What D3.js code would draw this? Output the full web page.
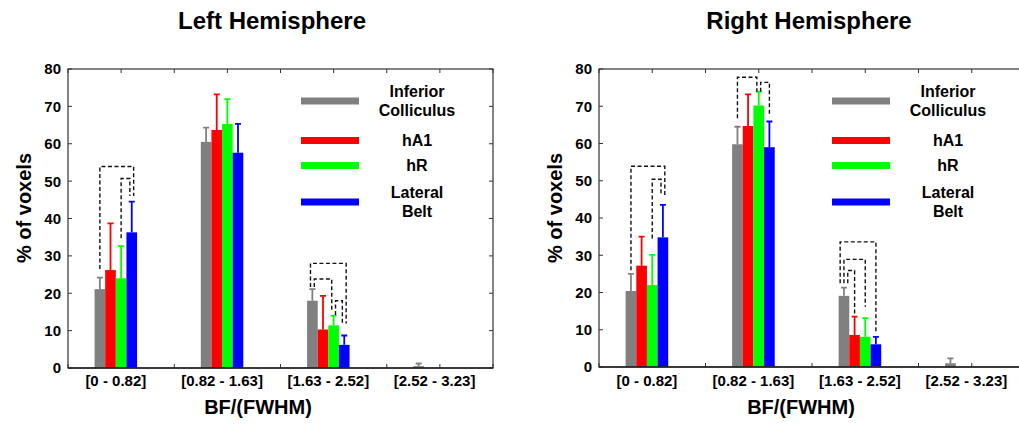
<!DOCTYPE html>
<meta charset="utf-8">
<script src="https://d3js.org/d3.v7.min.js"></script>
<style>
    body { margin: 0; background: #fff; }
    svg { display: block; }
    text { font-family: "Liberation Sans", Arial, Helvetica, sans-serif; font-weight: bold; fill: #000; }
</style>
<svg width="1019" height="424"></svg>
<script>
    // bins of BF/(FWHM)
    var categories = ["[0 - 0.82]", "[0.82 - 1.63]", "[1.63 - 2.52]", "[2.52 - 3.23]"];
    var regions = [["Inferior", "Colliculus"], ["hA1"], ["hR"], ["Lateral", "Belt"]];
    var colors = ["#808080", "#ff0000", "#00ff00", "#0000ff"];
    var yTicks = [0, 10, 20, 30, 40, 50, 60, 70, 80];

    // left hemisphere, % of voxels (mean) and error
    var leftIC = [21.1, 60.5, 18.0, 0.5];
    var leftA1 = [26.2, 63.7, 10.3, 0];
    var leftR  = [24.0, 65.3, 11.4, 0];
    var leftLB = [36.3, 57.6, 6.2, 0];
    var leftICErr = [3.1, 3.8, 3.1, 0.7];
    var leftA1Err = [12.5, 9.5, 9.0, 0];
    var leftRErr  = [8.6, 6.6, 2.6, 0];
    var leftLBErr = [8.2, 7.7, 2.5, 0];

    // right hemisphere
    var rightIC = [20.4, 59.8, 19.1, 1.0];
    var rightA1 = [27.2, 64.7, 8.6, 0];
    var rightR  = [22.0, 70.2, 8.1, 0];
    var rightLB = [34.8, 59.0, 6.1, 0];
    var rightICErr = [4.6, 4.7, 2.2, 1.3];
    var rightA1Err = [7.8, 8.5, 4.9, 0];
    var rightRErr  = [8.1, 3.7, 5.0, 0];
    var rightLBErr = [8.7, 6.9, 2.0, 0];

    // significance brackets: [bin, from region, to region, top, bottom at from, bottom at to]
    var leftSig = [
        [0, 0, 3, 53.9, 26.5, 46.0],
        [0, 2, 3, 50.7, 34.7, 46.0],
        [2, 0, 3, 28.0, 21.7, 11.9],
        [2, 0, 2, 23.8, 21.7, 15.1],
        [2, 2, 3, 18.0, 14.2, 11.9]
    ];
    var rightSig = [
        [0, 0, 3, 53.9, 26.0, 46.2],
        [0, 2, 3, 50.4, 34.5, 46.2],
        [1, 0, 2, 77.8, 66.8, 73.9],
        [1, 2, 3, 76.4, 73.9, 67.6],
        [2, 0, 3, 33.6, 22.5, 9.0],
        [2, 0, 2, 28.9, 22.5, 16.2],
        [2, 0, 1, 25.9, 22.5, 14.0]
    ];

    var svg = d3.select("svg");

    function drawPanel(p) {
        var x = d3.scaleLinear().domain([0.55, 4.55]).range([p.left, p.right]);
        var y = d3.scaleLinear().domain([0, 80]).range([p.bottom, p.top]);
        var g = svg.append("g");
        var bw = x(0.1) - x(0);

        // title
        g.append("text")
            .attr("x", p.titleX).attr("y", 29)
            .attr("text-anchor", "middle")
            .attr("font-size", "24px")
            .text(p.title);

        // minor ticks along top and bottom
        var xt = d3.range(0.55, 4.56, 0.5);
        g.selectAll(".xtt").data(xt).enter().append("line")
            .attr("x1", function(d) { return x(d); }).attr("x2", function(d) { return x(d); })
            .attr("y1", p.top).attr("y2", p.top + 4)
            .attr("stroke", "#333").attr("stroke-width", 1);
        g.selectAll(".xtb").data(xt).enter().append("line")
            .attr("x1", function(d) { return x(d); }).attr("x2", function(d) { return x(d); })
            .attr("y1", p.bottom).attr("y2", p.bottom - 4)
            .attr("stroke", "#333").attr("stroke-width", 1);

        // y ticks both sides
        g.selectAll(".ytl").data(yTicks).enter().append("line")
            .attr("x1", p.left).attr("x2", p.left + 4)
            .attr("y1", function(d) { return y(d); }).attr("y2", function(d) { return y(d); })
            .attr("stroke", "#333").attr("stroke-width", 1);
        g.selectAll(".ytr").data(yTicks).enter().append("line")
            .attr("x1", p.right).attr("x2", p.right - 4)
            .attr("y1", function(d) { return y(d); }).attr("y2", function(d) { return y(d); })
            .attr("stroke", "#333").attr("stroke-width", 1);

        g.selectAll(".ylab").data(yTicks).enter().append("text")
            .attr("x", p.left - 7).attr("y", function(d) { return y(d); })
            .attr("dy", "0.36em")
            .attr("text-anchor", "end")
            .attr("font-size", "15px")
            .text(function(d) { return d; });

        // bars + error bars
        var series = [];
        p.means.forEach(function(m, j) {
            m.forEach(function(v, i) {
                series.push({ bin: i, reg: j, v: v, e: p.errs[j][i] });
            });
        });
        series = series.filter(function(d) { return d.v > 0 || d.e > 0; });
        function cx(d) { return x(d.bin + 1 + (d.reg - 1.5) * 0.1); }

        g.selectAll(".err").data(series).enter().append("path")
            .attr("d", function(d) {
                var c = cx(d), t = y(d.v + d.e);
                return "M" + c + "," + y(d.v) + "V" + t + "M" + (c - 3) + "," + t + "H" + (c + 3);
            })
            .attr("fill", "none")
            .attr("stroke", function(d) { return colors[d.reg]; })
            .attr("stroke-width", 1.8);

        g.selectAll(".bar").data(series).enter().append("rect")
            .attr("x", function(d) { return cx(d) - bw / 2; })
            .attr("width", bw)
            .attr("y", function(d) { return y(d.v); })
            .attr("height", function(d) { return y(0) - y(d.v); })
            .attr("fill", function(d) { return colors[d.reg]; });

        // frame
        g.append("rect")
            .attr("x", p.left).attr("y", p.top)
            .attr("width", p.right - p.left).attr("height", p.bottom - p.top)
            .attr("fill", "none").attr("stroke", "#333").attr("stroke-width", 1.2);
        g.append("line")
            .attr("x1", p.left).attr("x2", p.right)
            .attr("y1", p.bottom).attr("y2", p.bottom)
            .attr("stroke", "#222").attr("stroke-width", 1.6);

        // significance brackets, legs sharing a bar get spread out
        var ends = {};
        p.sig.forEach(function(s, k) {
            var a = s[0] + "_" + s[1], b = s[0] + "_" + s[2];
            (ends[a] = ends[a] || []).push({ k: k, side: "L", top: s[3] });
            (ends[b] = ends[b] || []).push({ k: k, side: "R", top: s[3] });
        });
        var off = {};
        Object.keys(ends).forEach(function(key) {
            var list = ends[key];
            var rs = list.filter(function(e) { return e.side == "R"; }).sort(function(a, b) { return a.top - b.top; });
            var ls = list.filter(function(e) { return e.side == "L"; }).sort(function(a, b) { return b.top - a.top; });
            var all = rs.concat(ls);
            all.forEach(function(e, i) {
                off[e.k + e.side] = (i - (all.length - 1) / 2) * 3.8;
            });
        });
        g.selectAll(".sig").data(p.sig).enter().append("path")
            .attr("d", function(s, k) {
                var x1 = x(s[0] + 1 + (s[1] - 1.5) * 0.1) + off[k + "L"];
                var x2 = x(s[0] + 1 + (s[2] - 1.5) * 0.1) + off[k + "R"];
                return "M" + x1 + "," + y(s[4]) + "V" + y(s[3]) + "H" + x2 + "V" + y(s[5]);
            })
            .attr("fill", "none")
            .attr("stroke", "#111")
            .attr("stroke-width", 1.4)
            .attr("stroke-dasharray", "4,2.5");

        // category labels
        g.selectAll(".cat").data(categories).enter().append("text")
            .attr("x", function(d, i) { return x(i + 1); })
            .attr("y", 386)
            .attr("text-anchor", "middle")
            .attr("font-size", "15px")
            .text(function(d) { return d; });

        g.append("text")
            .attr("x", p.xlabX).attr("y", 414)
            .attr("text-anchor", "middle")
            .attr("font-size", "20px")
            .text("BF/(FWHM)");

        g.append("text")
            .attr("transform", "translate(" + (p.left - 44) + ",208) rotate(-90)")
            .attr("dy", "0.36em")
            .attr("text-anchor", "middle")
            .attr("font-size", "20px")
            .text("% of voxels");

        // legend
        var legY = [32, 71.5, 96.5, 133];
        var lg = g.append("g").attr("transform", "translate(" + p.left + "," + p.top + ")");
        regions.forEach(function(r, j) {
            lg.append("line")
                .attr("x1", 233).attr("x2", 291)
                .attr("y1", legY[j]).attr("y2", legY[j])
                .attr("stroke", colors[j]).attr("stroke-width", 7);
            r.forEach(function(t, li) {
                lg.append("text")
                    .attr("x", 349)
                    .attr("y", legY[j] + (li - (r.length - 1) / 2) * 19)
                    .attr("dy", "0.36em")
                    .attr("text-anchor", "middle")
                    .attr("font-size", "16px")
                    .text(t);
            });
        });
    }

    drawPanel({
        title: "Left Hemisphere", titleX: 272, xlabX: 258,
        left: 68, right: 493, top: 69, bottom: 368,
        means: [leftIC, leftA1, leftR, leftLB],
        errs: [leftICErr, leftA1Err, leftRErr, leftLBErr],
        sig: leftSig
    });
    drawPanel({
        title: "Right Hemisphere", titleX: 809, xlabX: 801,
        left: 599, right: 1025, top: 69, bottom: 367,
        means: [rightIC, rightA1, rightR, rightLB],
        errs: [rightICErr, rightA1Err, rightRErr, rightLBErr],
        sig: rightSig
    });
</script>
